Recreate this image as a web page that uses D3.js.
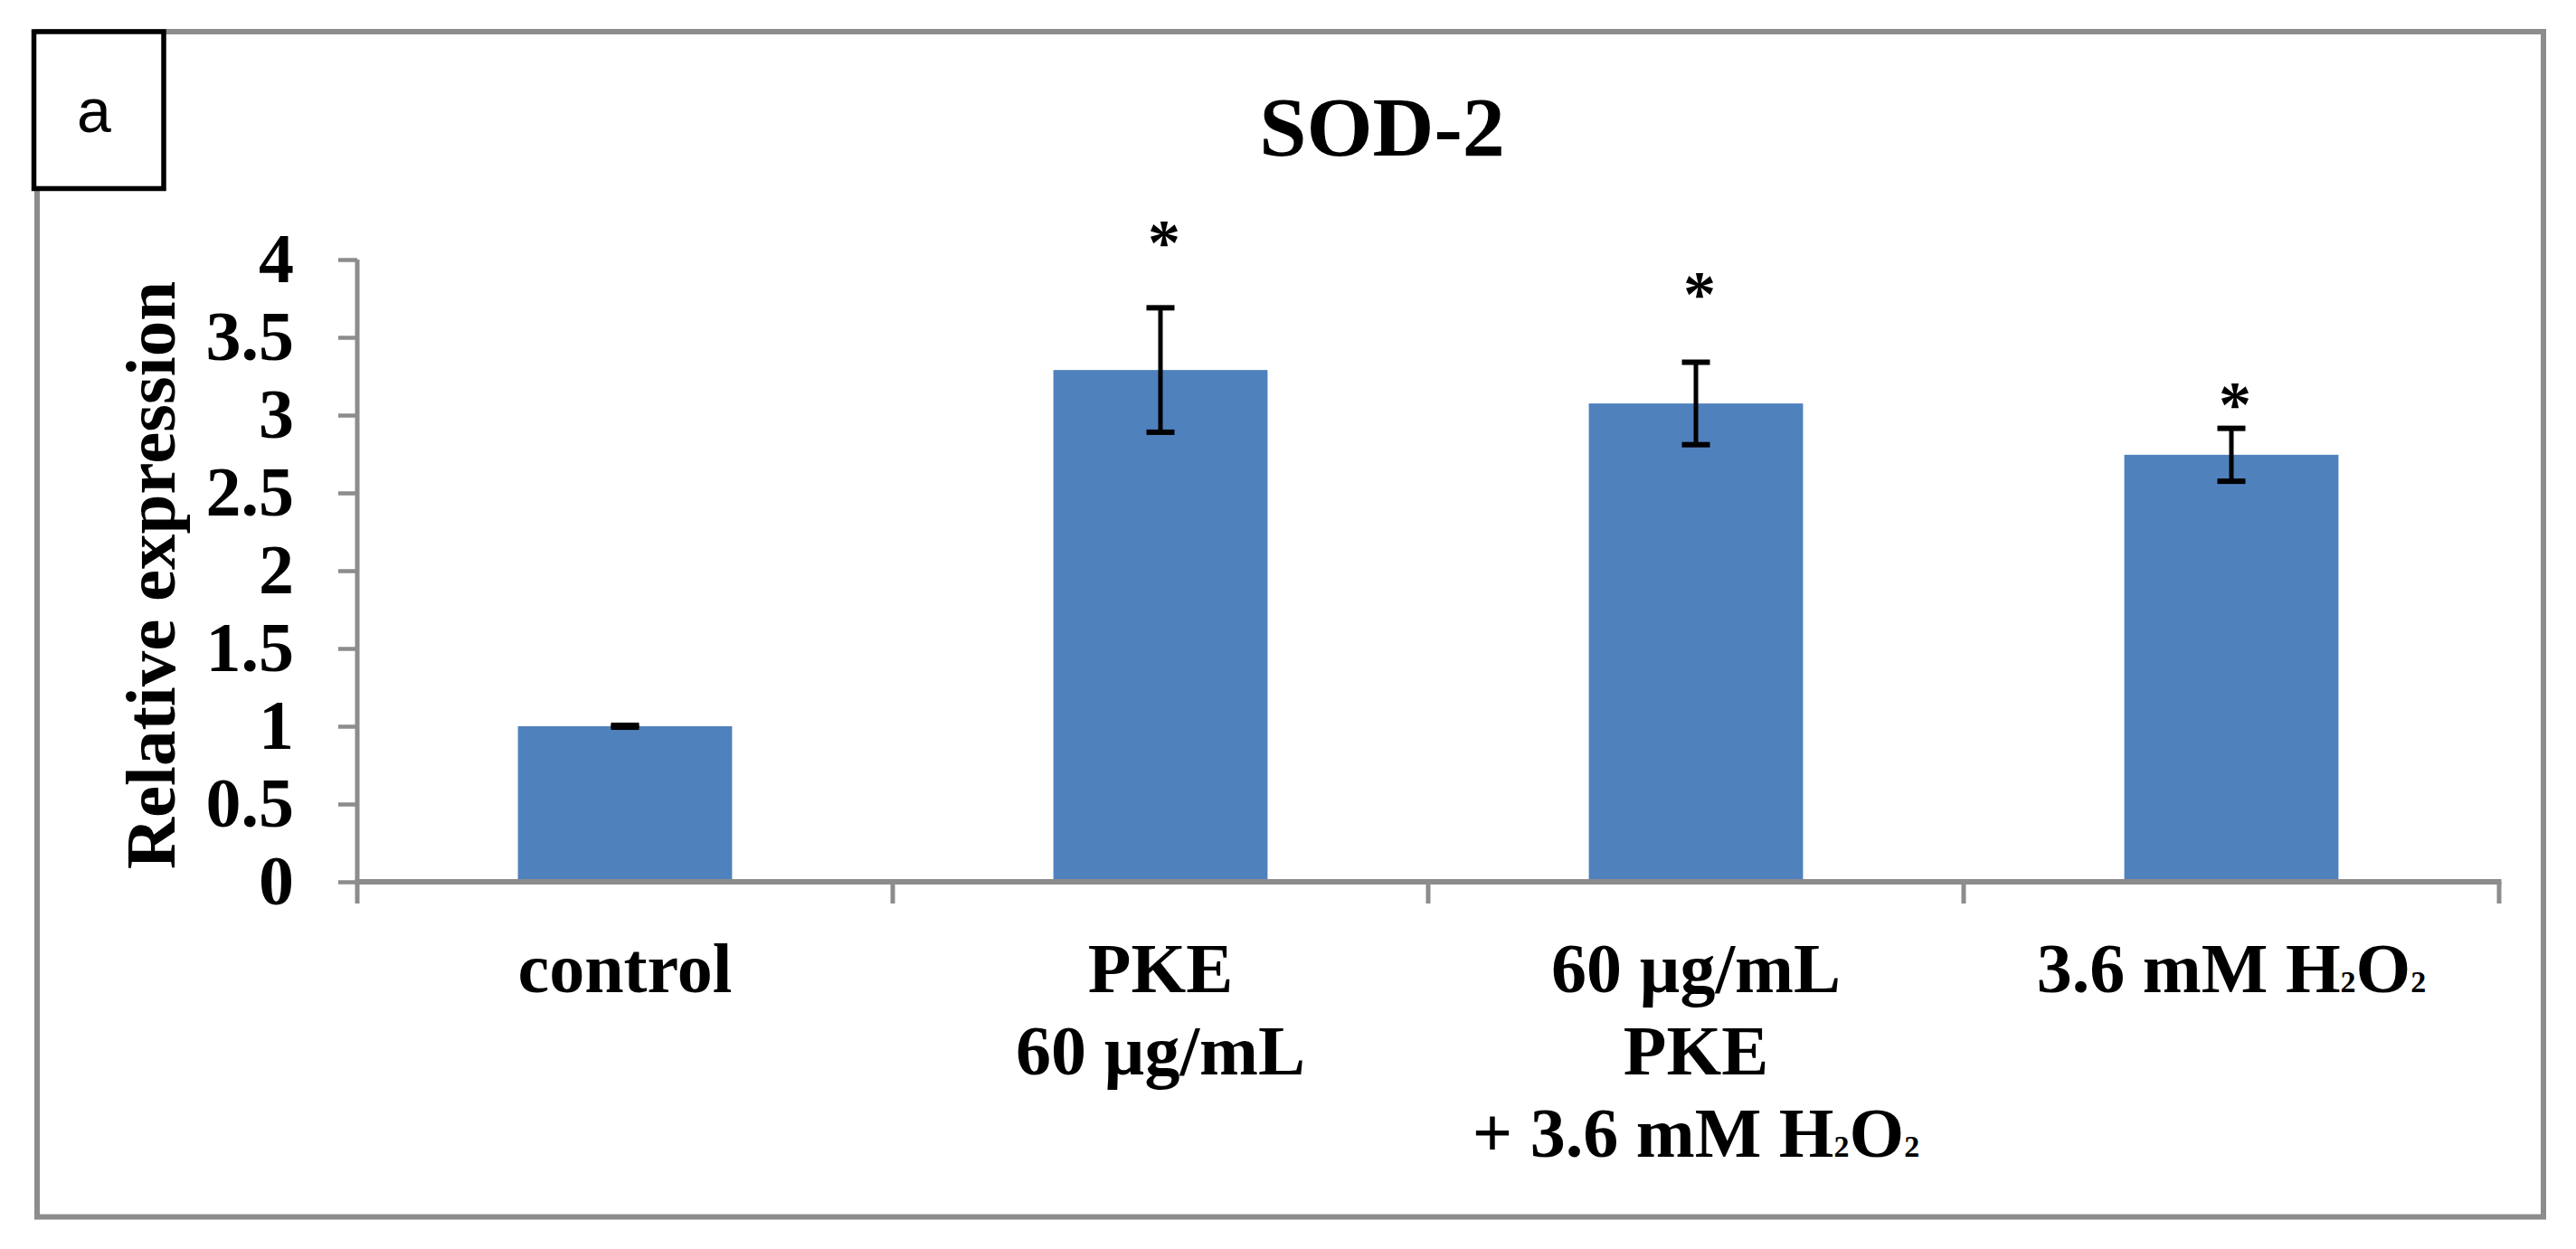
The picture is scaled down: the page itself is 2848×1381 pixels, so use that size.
<!DOCTYPE html>
<html><head><meta charset="utf-8">
<script src="https://cdn.jsdelivr.net/npm/d3@7"></script>
<style>html,body{margin:0;padding:0;background:#fff}svg{display:block}</style>
</head><body>
<script>
// ---- data ----
const categories = ["control", "PKE 60 µg/mL", "60 µg/mL PKE + 3.6 mM H₂O₂", "3.6 mM H₂O₂"];
const labelLines = [["control"], ["PKE", "60 µg/mL"], ["60 µg/mL", "PKE", "+ 3.6 mM H₂O₂"], ["3.6 mM H₂O₂"]];
const values = [1.00, 3.29, 3.075, 2.745];
const errors = [0.006, 0.40, 0.265, 0.17];
const significant = [false, true, true, true];
const starLevels = [null, 4.17, 3.84, 3.13];
const yTicks = [0, 0.5, 1, 1.5, 2, 2.5, 3, 3.5, 4];
const yTickLabels = ["0", "0.5", "1", "1.5", "2", "2.5", "3", "3.5", "4"];
const chartTitle = "SOD-2";
const yTitle = "Relative expression";
const panelLabel = "a";

// ---- layout ----
const W = 2848, H = 1381;
const serif = "'Liberation Serif','Times New Roman',serif";
const gray = "#8c8c8c";
const svg = d3.select("body").append("svg").attr("width", W).attr("height", H);

const x = d3.scaleBand().domain(categories).range([395, 2763]).paddingInner(0.6).paddingOuter(0.3);
const y = d3.scaleLinear().domain([0, 4]).range([975, 287]);
const axisBottomY = y(0) + 24;

// outer frame
svg.append("rect").attr("x", 41).attr("y", 35).attr("width", 2771).attr("height", 1310.5)
  .attr("fill", "none").attr("stroke", gray).attr("stroke-width", 6);

// panel label box
svg.append("rect").attr("x", 37.5).attr("y", 35).attr("width", 143.5).attr("height", 173.5)
  .attr("fill", "#fff").attr("stroke", "#000").attr("stroke-width", 5.5);
svg.append("text").attr("x", 104).attr("y", 146).attr("text-anchor", "middle")
  .attr("font-family", "'Liberation Sans',Arial,sans-serif").attr("font-size", 68).attr("fill", "#000")
  .text(panelLabel);

// title
svg.append("text").attr("x", 1528).attr("y", 172).attr("text-anchor", "middle")
  .attr("font-family", serif).attr("font-weight", "bold").attr("font-size", 94).attr("fill", "#000")
  .text(chartTitle);

// y axis
const yAxis = svg.append("g").attr("transform", `translate(${x.range()[0]},0)`)
  .call(d3.axisLeft(y).tickValues(yTicks).tickFormat((d, i) => yTickLabels[i]).tickSize(21).tickSizeOuter(0).tickPadding(49));
yAxis.select(".domain").remove();
yAxis.selectAll(".tick line").attr("stroke", gray).attr("stroke-width", 4.5);
yAxis.selectAll(".tick text").attr("font-family", serif).attr("font-weight", "bold").attr("font-size", 78).attr("fill", "#000");
svg.append("line").attr("x1", x.range()[0]).attr("x2", x.range()[0]).attr("y1", y(4)).attr("y2", axisBottomY)
  .attr("stroke", gray).attr("stroke-width", 5);

// y title
svg.append("text").attr("transform", `translate(193,${(y(0) + y(4)) / 2 - 995 + 995}) rotate(-90)`)
  .attr("text-anchor", "middle").attr("font-family", serif).attr("font-weight", "bold").attr("font-size", 79)
  .attr("fill", "#000").attr("y", 0).attr("x", 0)
  .attr("transform", `translate(193,636) rotate(-90)`)
  .text(yTitle);

// bars
svg.append("g").selectAll("rect").data(categories).join("rect")
  .attr("x", d => x(d)).attr("width", x.bandwidth())
  .attr("y", (d, i) => y(values[i])).attr("height", (d, i) => y(0) - y(values[i]))
  .attr("fill", "#4f81bd");

// x axis
const xAxis = svg.append("g").attr("transform", `translate(0,${y(0)})`)
  .call(d3.axisBottom(x).tickSize(0).tickFormat(""));
xAxis.select(".domain").remove();
svg.append("line").attr("x1", x.range()[0] - 2.5).attr("x2", x.range()[1] + 2.5).attr("y1", y(0)).attr("y2", y(0))
  .attr("stroke", gray).attr("stroke-width", 6);
const gapHalf = (x.step() - x.bandwidth()) / 2;
const bounds = [x(categories[0]) - gapHalf].concat(categories.map(c => x(c) + x.bandwidth() + gapHalf));
svg.append("g").selectAll("line").data(bounds.slice(1)).join("line")
  .attr("x1", d => d).attr("x2", d => d).attr("y1", y(0)).attr("y2", axisBottomY)
  .attr("stroke", gray).attr("stroke-width", 5);

// category labels
function richText(sel, str) {
  const parts = str.split("₂");
  parts.forEach((p, k) => {
    if (p.length) sel.append("tspan").text(p);
    if (k < parts.length - 1) sel.append("tspan").attr("font-size", 34).text("2");
  });
}
const lab = svg.append("g").attr("font-family", serif).attr("font-weight", "bold").attr("font-size", 78)
  .attr("fill", "#000").attr("text-anchor", "middle");
categories.forEach((c, i) => {
  labelLines[i].forEach((line, j) => {
    const t = lab.append("text").attr("x", x(c) + x.bandwidth() / 2).attr("y", 1097 + j * 91);
    richText(t, line);
  });
});

// error bars
const eb = svg.append("g").attr("stroke", "#000");
categories.forEach((c, i) => {
  const cx = x(c) + x.bandwidth() / 2;
  const top = y(values[i] + errors[i]), bot = y(values[i] - errors[i]);
  eb.append("line").attr("x1", cx).attr("x2", cx).attr("y1", top).attr("y2", bot).attr("stroke-width", 5);
  [top, bot].forEach(yy => eb.append("line").attr("x1", cx - 15.5).attr("x2", cx + 15.5)
    .attr("y1", yy).attr("y2", yy).attr("stroke-width", 6));
});

// significance stars
svg.append("g").selectAll("text").data(categories.filter((c, i) => significant[i])).join("text")
  .attr("x", d => x(d) + x.bandwidth() / 2 + 4)
  .attr("y", d => y(starLevels[categories.indexOf(d)]))
  .attr("dy", "0.475em").attr("text-anchor", "middle")
  .attr("font-family", serif).attr("font-weight", "bold").attr("font-size", 72).attr("fill", "#000")
  .text("*");
</script>
</body></html>
